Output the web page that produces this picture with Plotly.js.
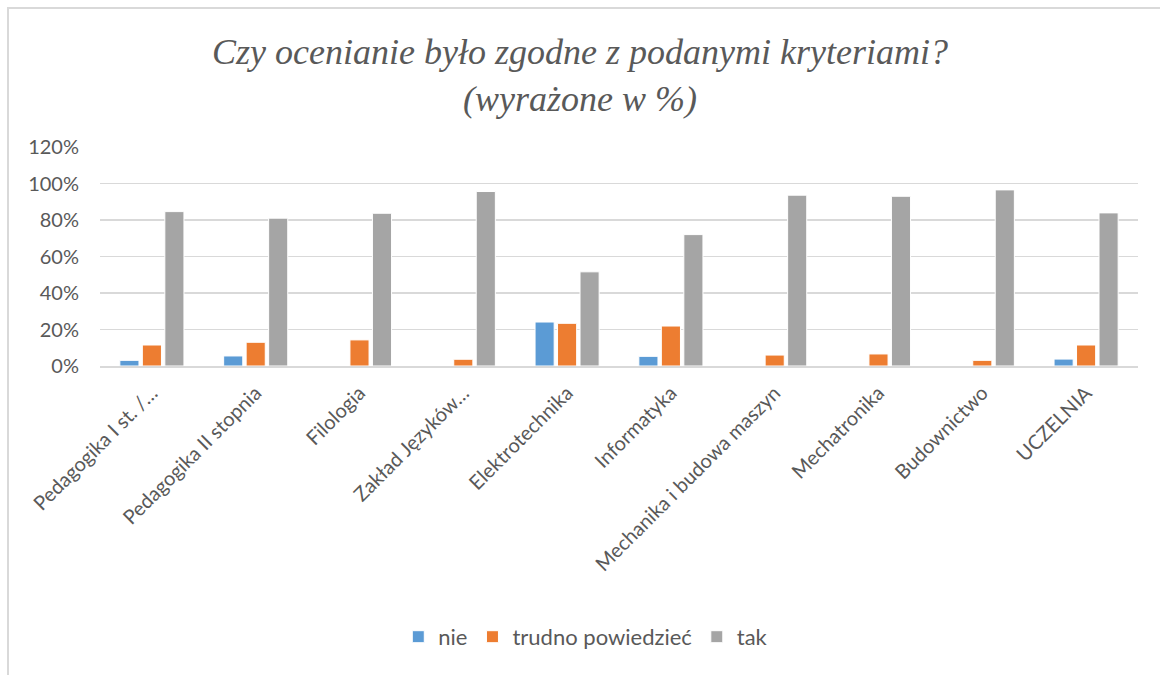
<!DOCTYPE html>
<html>
<head>
<meta charset="utf-8">
<script src="https://cdn.plot.ly/plotly-3.0.1.min.js"></script>
<style>
html,body{margin:0;padding:0;background:#fff;}
#frame{position:absolute;left:7px;top:7px;width:1160px;height:675px;border-left:2px solid #d9d9d9;border-top:2px solid #d9d9d9;box-sizing:border-box;}
#chart{position:absolute;left:0;top:0;width:1160px;height:675px;}
</style>
</head>
<body>
<div id="chart"></div>
<div id="frame"></div>
<script>
const categories = ["Pedagogika I st. /…", "Pedagogika II stopnia", "Filologia", "Zakład Języków…", "Elektrotechnika", "Informatyka", "Mechanika i budowa maszyn", "Mechatronika", "Budownictwo", "UCZELNIA"];
const nie = [0.031, 0.055, null, null, 0.241, 0.053, null, null, null, 0.038];
const trudno = [0.115, 0.13, 0.143, 0.037, 0.234, 0.219, 0.06, 0.066, 0.031, 0.115];
const tak = [0.846, 0.81, 0.837, 0.956, 0.516, 0.72, 0.936, 0.93, 0.965, 0.839];
const seriesNames = ["nie", "trudno powiedzieć", "tak"];
const colors = ["#5B9BD5", "#ED7D31", "#A5A5A5"];
const yTicks = [0, 0.2, 0.4, 0.6, 0.8, 1.0, 1.2];
const yTickText = ["0%", "20%", "40%", "60%", "80%", "100%", "120%"];

const series = [nie, trudno, tak];
const traces = series.map((vals, i) => ({
  type: "bar",
  name: seriesNames[i],
  x: categories,
  y: vals,
  marker: {color: colors[i], line: {color: "#ffffff", width: 1}},
  hoverinfo: "x+y+name"
}));

const layout = {
  width: 1160,
  height: 675,
  paper_bgcolor: "#ffffff",
  plot_bgcolor: "#ffffff",
  margin: {l: 100, r: 22, t: 147, b: 309},
  barmode: "group",
  bargap: 0.35,
  bargroupgap: 0.15,
  title: {
    text: "Czy ocenianie było zgodne z podanymi kryteriami?<br>(wyrażone w %)",
    font: {family: "Liberation Serif, DejaVu Serif, serif", size: 36, color: "#595959", style: "italic"},
    x: 0.5, xanchor: "center",
    y: 0.905, yanchor: "middle", yref: "container"
  },
  font: {family: "Lato, Open Sans, sans-serif", color: "#595959"},
  xaxis: {
    type: "category",
    tickangle: -45,
    tickfont: {size: 20, color: "#595959"},
    showline: true, linecolor: "#d9d9d9", linewidth: 1.5,
    ticks: "", showgrid: false,
    ticklabelstandoff: 6
  },
  yaxis: {
    range: [0, 1.2],
    tickvals: yTicks,
    ticktext: yTickText,
    tickfont: {size: 20, color: "#595959"},
    showgrid: true, gridcolor: "#d9d9d9", gridwidth: 1.5,
    zeroline: false, showline: false, ticks: "",
    ticklabelstandoff: 20
  },
  legend: {
    orientation: "h",
    x: 0.468, xanchor: "center",
    y: -1.237, yanchor: "middle",
    font: {size: 22, color: "#595959"},
    itemwidth: 30
  },
  showlegend: true
};

Plotly.newPlot("chart", traces, layout, {displayModeBar: false, staticPlot: true});
</script>
</body>
</html>
